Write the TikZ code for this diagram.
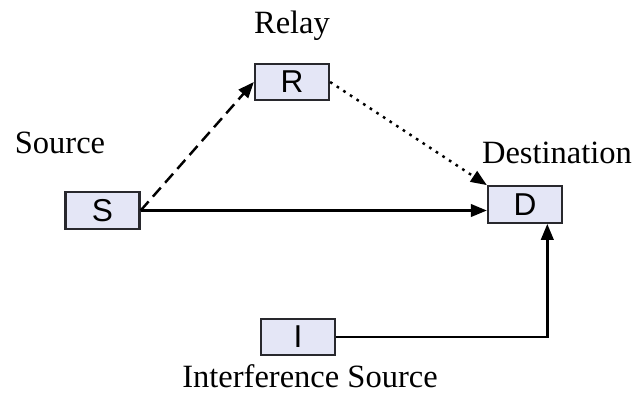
\documentclass[tikz,border=0pt]{standalone}
\usepackage{fontspec}
\setmainfont{Liberation Serif}
\setsansfont{Liberation Sans}
\usetikzlibrary{arrows.meta}
\definecolor{boxfill}{RGB}{228,230,246}
\definecolor{boxline}{RGB}{40,40,45}
\begin{document}
\begin{tikzpicture}[
  unit/.style={draw=boxline, line width=1.3pt, fill=boxfill, minimum width=1.48cm,
    minimum height=0.73cm, inner sep=0pt, font=\sffamily\fontsize{18}{20}\selectfont},
  lbl/.style={font=\fontsize{18.5}{21}\selectfont, anchor=base, inner sep=0pt},
  arr/.style={-{Triangle[length=0.32cm,width=0.25cm]}, line width=1.4pt, black},
  dashline/.style={arr, dash pattern=on 0.24cm off 0.13cm},
  dotline/.style={arr, dash pattern=on 1.5pt off 3pt}
]
\useasboundingbox (0,0) rectangle (12.7,7.84);
\node[unit] (S) at (2.05, 3.63) {S};
\node[unit] (R) at (5.84, 6.2) {R};
\node[unit] (D) at (10.5, 3.75) {D};
\node[unit] (I) at (5.96, 1.1) {I};
\node[lbl] (relay) at (5.84, 7.18) {Relay};
\node[lbl] (src) at (1.2, 4.78) {Source};
\node[lbl] (dst) at (11.14, 4.58) {Destination};
\node[lbl] (intf) at (6.2, 0.09) {Interference Source};
\draw[arr] (S.east) -- (S.east -| D.west);
\draw[dashline] (S.east) -- (R.west);
\draw[dotline] (R.east) -- (D.north west);
\draw[arr] (I.east) -| (D.-41);
\end{tikzpicture}
\end{document}
